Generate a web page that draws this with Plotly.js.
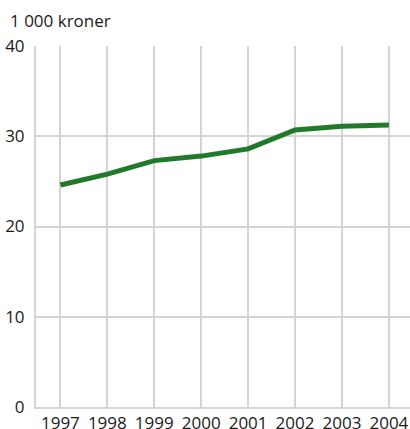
<!DOCTYPE html>
<html>
<head>
<meta charset="utf-8">
<script src="https://cdn.plot.ly/plotly-3.0.1.min.js"></script>
<style>html,body{margin:0;padding:0;background:#fff;}#chart{width:410px;height:429px;}</style>
</head>
<body>
<div id="chart"></div>
<script>
var years = [1997, 1998, 1999, 2000, 2001, 2002, 2003, 2004];
var values = [24.6, 25.8, 27.3, 27.8, 28.6, 30.7, 31.1, 31.25];
var yTicks = [0, 10, 20, 30, 40];
var unitLabel = "1 000 kroner";

var trace = {
  x: years, y: values, type: "scatter", mode: "lines",
  line: {color: "#217a2c", width: 5},
  hoverinfo: "skip"
};
var layout = {
  width: 410, height: 429,
  margin: {l: 36, r: 0, t: 46, b: 22, pad: 0},
  paper_bgcolor: "#fff", plot_bgcolor: "#fff",
  showlegend: false,
  font: {family: "Open Sans, Noto Sans, sans-serif", size: 17, color: "#1a1a1a"},
  xaxis: {
    range: [1996.48, 2004.45], tickvals: years, ticktext: years.map(String),
    showgrid: true, gridcolor: "#d4d4d4", gridwidth: 2,
    showline: true, linecolor: "#d4d4d4", linewidth: 2,
    zeroline: false, ticks: "", ticklabelstandoff: 0,
    tickfont: {size: 17, color: "#1a1a1a"}
  },
  yaxis: {
    range: [0, 40], tickvals: yTicks, ticktext: yTicks.map(String),
    showgrid: true, gridcolor: "#d4d4d4", gridwidth: 2,
    showline: true, linecolor: "#d4d4d4", linewidth: 2,
    zeroline: false, ticks: "", ticklabelstandoff: 6,
    tickfont: {size: 17, color: "#1a1a1a"}
  },
  annotations: [{
    text: unitLabel, xref: "paper", yref: "paper", x: -36/374, y: 1,
    xanchor: "left", yanchor: "bottom", yshift: 12, showarrow: false,
    font: {size: 17, color: "#1a1a1a"}, xshift: 8
  }]
};
Plotly.newPlot("chart", [trace], layout, {displayModeBar: false, staticPlot: true});
</script>
</body>
</html>
